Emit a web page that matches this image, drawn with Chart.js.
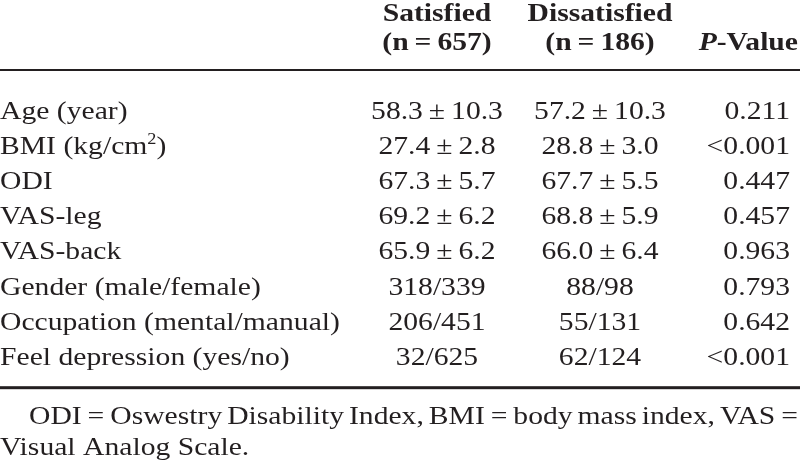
<!DOCTYPE html>
<html>
<head>
<meta charset="utf-8">
<script src="https://cdn.jsdelivr.net/npm/chart.js"></script>
<style>
  html, body { margin: 0; padding: 0; background: #fff; }
  #wrap { width: 800px; height: 465px; }
</style>
</head>
<body>
<div id="wrap"><canvas id="table" width="800" height="465"></canvas></div>
<script>
// Table data
const rowLabels = ['Age (year)', 'BMI (kg/cm²)', 'ODI', 'VAS-leg', 'VAS-back',
  'Gender (male/female)', 'Occupation (mental/manual)', 'Feel depression (yes/no)'];
const groupNames = ['Satisfied', 'Dissatisfied'];
const groupSizes = [657, 186];

// mean ± SD rows
const satMean = [58.3, 27.4, 67.3, 69.2, 65.9];
const satSD = [10.3, 2.8, 5.7, 6.2, 6.2];
const disMean = [57.2, 28.8, 67.7, 68.8, 66.0];
const disSD = [10.3, 3.0, 5.5, 5.9, 6.4];

// count rows
const satCounts = [[318, 339], [206, 451], [32, 625]];
const disCounts = [[88, 98], [55, 131], [62, 124]];

const pValues = ['0.211', '<0.001', '0.447', '0.457', '0.963', '0.793', '0.642', '<0.001'];

const footnote = ['ODI\u2009=\u2009Oswestry Disability Index, BMI\u2009=\u2009body mass index, VAS\u2009=',
  'Visual Analog Scale.'];

// layout
const colX = [0, 437, 600, 790];
const colAlign = ['left', 'center', 'center', 'right'];
const fontSize = 26;
const stretch = 1.14;
const ink = '#231f20';
const serif = '"Liberation Serif", "Times New Roman", serif';

function cellText(col, i) {
    if (col === 0) return rowLabels[i];
    if (col === 3) return pValues[i];
    const mean = col === 1 ? satMean : disMean;
    const sd = col === 1 ? satSD : disSD;
    const counts = col === 1 ? satCounts : disCounts;
    if (i < mean.length) return mean[i].toFixed(1) + '\u2009±\u2009' + sd[i].toFixed(1);
    const c = counts[i - mean.length];
    return c[0] + '/' + c[1];
}

// draws text stretched horizontally, handles a ² superscript
function drawText(ctx, text, x, y, align, font) {
    const parts = text.split('²');
    const supFont = font.replace(fontSize + 'px', Math.round(fontSize * 0.62) + 'px');
    let w = 0;
    parts.forEach((p, k) => {
        ctx.font = font;
        w += ctx.measureText(p).width;
        if (k < parts.length - 1) { ctx.font = supFont; w += ctx.measureText('2').width; }
    });
    w *= stretch;
    let left = x;
    if (align === 'center') left = x - w / 2;
    if (align === 'right') left = x - w;
    ctx.save();
    ctx.translate(left, y);
    ctx.scale(stretch, 1);
    ctx.textAlign = 'left';
    ctx.textBaseline = 'alphabetic';
    let cx = 0;
    parts.forEach((p, k) => {
        ctx.font = font;
        ctx.fillText(p, cx, 0);
        cx += ctx.measureText(p).width;
        if (k < parts.length - 1) {
            ctx.font = supFont;
            ctx.fillText('2', cx, -fontSize * 0.4);
            cx += ctx.measureText('2').width;
        }
    });
    ctx.restore();
    return w;
}

function drawJustified(ctx, text, x0, x1, y, font) {
    ctx.font = font;
    const words = text.split(' ');
    const widths = words.map(wd => ctx.measureText(wd).width * stretch);
    const total = widths.reduce((a, b) => a + b, 0);
    const gap = (x1 - x0 - total) / (words.length - 1);
    let cx = x0;
    words.forEach((wd, k) => {
        drawText(ctx, wd, cx, y, 'left', font);
        cx += widths[k] + gap;
    });
}

const tablePlugin = {
    id: 'tablePlugin',
    afterDraw(chart) {
        const { ctx, scales: { x, y } } = chart;
        const regular = fontSize + 'px ' + serif;
        const bold = 'bold ' + fontSize + 'px ' + serif;
        const boldItalic = 'italic bold ' + fontSize + 'px ' + serif;
        ctx.fillStyle = ink;

        const base = 8; // baseline below row centre
        const first = y.getPixelForValue(0) + base;
        const last = y.getPixelForValue(rowLabels.length - 1) + base;

        // header
        const h1 = first - 98, h2 = first - 69;
        groupNames.forEach((g, k) => {
            const px = x.getPixelForValue(colX[k + 1]);
            drawText(ctx, g, px, h1, 'center', bold);
            drawText(ctx, '(n\u2009=\u2009' + groupSizes[k] + ')', px, h2, 'center', bold);
        });
        const pr = x.getPixelForValue(colX[3]) + 8;
        const wv = drawText(ctx, '-Value', pr, h2, 'right', bold);
        drawText(ctx, 'P', pr - wv, h2, 'right', boldItalic);

        // rules
        ctx.fillStyle = ink;
        ctx.fillRect(x.left, first - 50, x.right - x.left, 2);
        ctx.fillRect(x.left, last + 21.5, x.right - x.left, 3);

        // body
        rowLabels.forEach((lab, i) => {
            const py = y.getPixelForValue(i) + base;
            for (let col = 0; col < 4; col++) {
                drawText(ctx, cellText(col, i), x.getPixelForValue(colX[col]), py, colAlign[col], regular);
            }
        });

        // footnote
        drawJustified(ctx, footnote[0], x.left + 29, x.right - 2, last + 59, regular);
        drawText(ctx, footnote[1], x.left, last + 90, 'left', regular);
    }
};

new Chart(document.getElementById('table').getContext('2d'), {
    type: 'scatter',
    data: { labels: rowLabels, datasets: [] },
    options: {
        responsive: false,
        animation: false,
        events: [],
        layout: { padding: { top: 93.45, bottom: 90.75, left: 0, right: 0 } },
        plugins: { legend: { display: false }, tooltip: { enabled: false } },
        scales: {
            x: { type: 'linear', min: 0, max: 800, display: false },
            y: { type: 'category', labels: rowLabels, offset: true, display: false }
        }
    },
    plugins: [tablePlugin]
});
</script>
</body>
</html>
